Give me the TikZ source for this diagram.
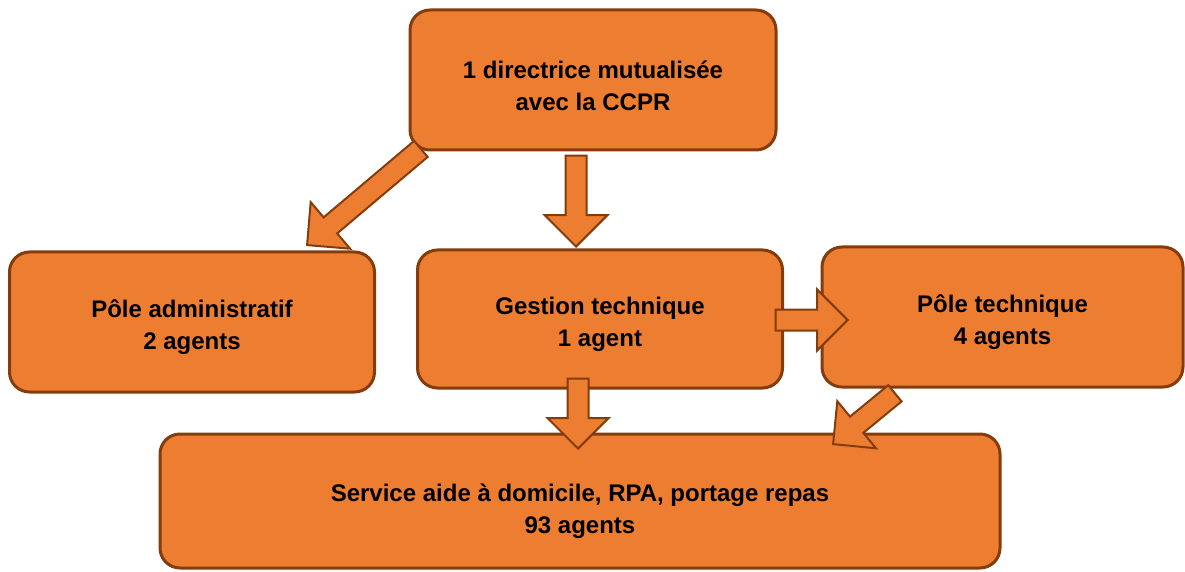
\documentclass[tikz,border=0pt]{standalone}
\usepackage{fontspec}
\setmainfont{Liberation Sans}
\usetikzlibrary{shapes.arrows}
\definecolor{boxfill}{HTML}{ED7D31}
\definecolor{boxline}{HTML}{843C0C}
\newcommand{\topstrut}[1][29pt]{\rule{0pt}{#1}}

\begin{document}
\begin{tikzpicture}[x=1pt,y=1pt,
      obox/.style={draw=boxline,line width=3pt,fill=boxfill,rounded corners=20pt,
                   minimum width=#1,minimum height=140pt,align=center,inner sep=0pt,
                   font=\fontsize{24}{32}\selectfont\bfseries},
      obox/.default=365pt,
      barrow/.style={single arrow,draw=boxline,line width=2pt,fill=boxfill,
                     inner xsep=0pt,inner ysep=9.5pt,single arrow head extend=20pt,
                     single arrow tip angle=90,anchor=tip}]
    \useasboundingbox (0,0) rectangle (1185,571);
    % boxes
    \node[obox=366pt] (dir) at (593,491) {\topstrut 1 directrice mutualisée\\avec la CCPR};
    \node[obox] (adm) at (192,249) {\topstrut Pôle administratif\\2 agents};
    \node[obox,minimum height=138pt] (gest) at (600,252) {\topstrut Gestion technique\\1 agent};
    \node[obox=361pt] (ptech) at (1002.5,254) {\topstrut Pôle technique\\4 agents};
    \node[obox=840pt,minimum height=134pt] (serv) at (580,70)
      {\topstrut[38pt]Service aide à domicile, RPA, portage repas\\93 agents};
    % block arrows
    \node[barrow,minimum height=149pt,rotate=220.2] (a1) at (306,325) {};
    \node[barrow,minimum height=91pt,single arrow head extend=21pt,rotate=270] (a2) at (576,323) {};
    \node[barrow,minimum height=72pt] (a3) at (849,251) {};
    \node[barrow,minimum height=70pt,rotate=270] (a4) at (578,121) {};
    \node[barrow,minimum height=80pt,rotate=219.4] (a5) at (832,126) {};
  \end{tikzpicture}
\end{document}
